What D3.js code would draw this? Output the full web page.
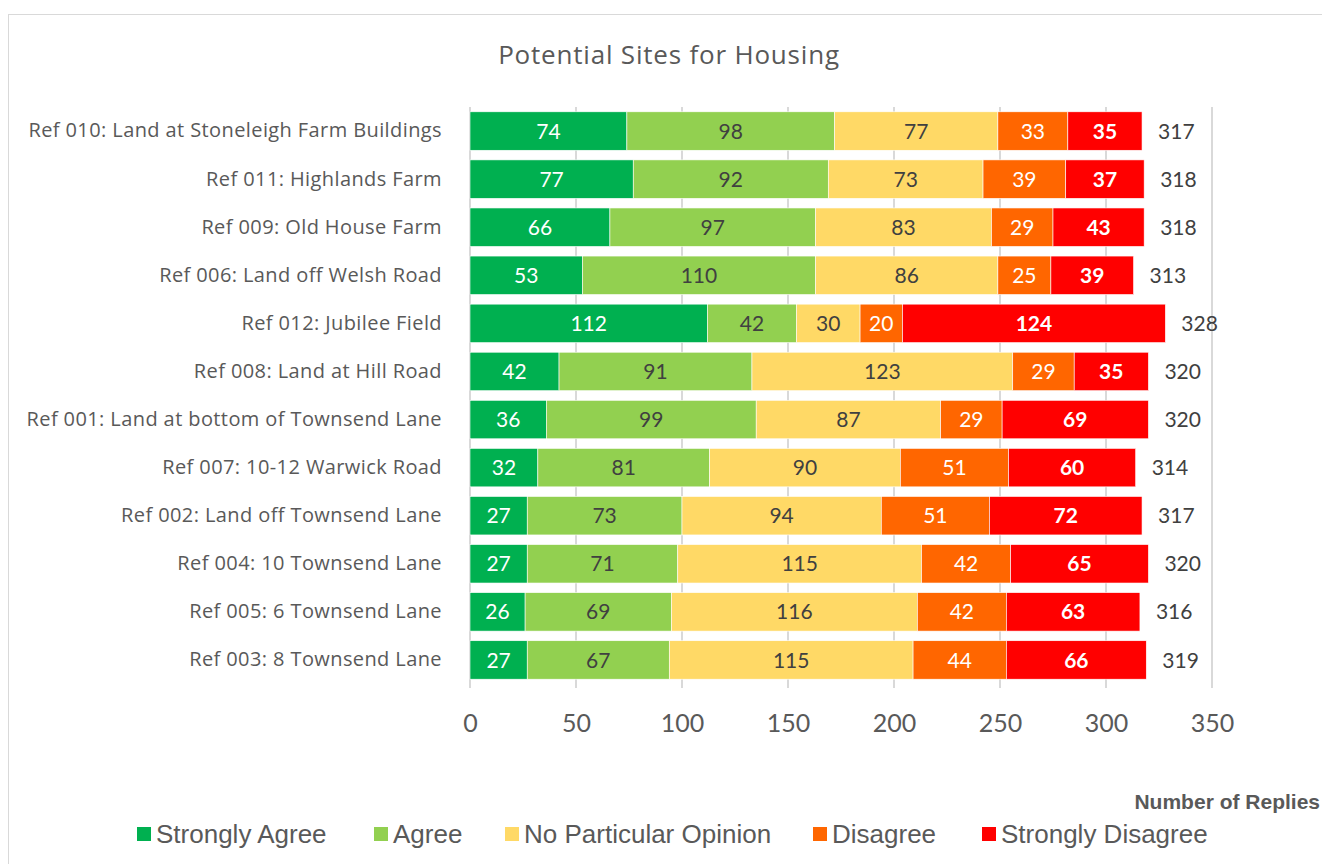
<!DOCTYPE html>
<html>
<head>
<meta charset="utf-8">
<script src="https://cdn.jsdelivr.net/npm/d3@7"></script>
<style>
  body { margin: 0; background: #fff; }
  svg { display: block; }
</style>
</head>
<body>
<div id="container"></div>
<script>
/* DATA */
const sites = [
  "Ref 010: Land at Stoneleigh Farm Buildings",
  "Ref 011: Highlands Farm",
  "Ref 009: Old House Farm",
  "Ref 006: Land off Welsh Road",
  "Ref 012: Jubilee Field",
  "Ref 008: Land at Hill Road",
  "Ref 001: Land at bottom of Townsend Lane",
  "Ref 007: 10-12 Warwick Road",
  "Ref 002: Land off Townsend Lane",
  "Ref 004: 10 Townsend Lane",
  "Ref 005: 6 Townsend Lane",
  "Ref 003: 8 Townsend Lane",
];
const responses = ["Strongly Agree", "Agree", "No Particular Opinion", "Disagree", "Strongly Disagree"];
const stronglyAgree = [74, 77, 66, 53, 112, 42, 36, 32, 27, 27, 26, 27];
const agree = [98, 92, 97, 110, 42, 91, 99, 81, 73, 71, 69, 67];
const noOpinion = [77, 73, 83, 86, 30, 123, 87, 90, 94, 115, 116, 115];
const disagree = [33, 39, 29, 25, 20, 29, 29, 51, 51, 42, 42, 44];
const stronglyDisagree = [35, 37, 43, 39, 124, 35, 69, 60, 72, 65, 63, 66];
const xTicks = [0, 50, 100, 150, 200, 250, 300, 350];

/* CONSTANTS */
const width = 1322;
const height = 864;
const margin = { top: 107, left: 470, right: 110, bottom: 180 };
const colors = ["#00B050", "#92D050", "#FFD966", "#FF6600", "#FF0000"];
const labelColors = ["#ffffff", "#404040", "#404040", "#ffffff", "#ffffff"];
const labelWeights = ["normal", "normal", "normal", "normal", "bold"];
const font = "Lato, 'Open Sans', sans-serif";
const wide = "'Open Sans', Lato, sans-serif";
const narrow = "'Liberation Sans Narrow', 'Arial Narrow', 'Liberation Sans', sans-serif";

const table = sites.map((s, i) => ({
  site: s,
  "Strongly Agree": stronglyAgree[i],
  "Agree": agree[i],
  "No Particular Opinion": noOpinion[i],
  "Disagree": disagree[i],
  "Strongly Disagree": stronglyDisagree[i],
}));
const stacked = d3.stack().keys(responses)(table);

/* SCALES */
const xScale = d3.scaleLinear().domain([0, 350]).range([margin.left, width - margin.right]);
const yScale = d3.scaleBand().domain(sites).range([margin.top, height - margin.bottom]).paddingInner(0.2).paddingOuter(0.1);
const colorScale = d3.scaleOrdinal().domain(responses).range(colors);

/* SVG */
const svg = d3.select("#container").append("svg").attr("width", width).attr("height", height);

// chart border
svg.append("rect")
  .attr("x", 8.5).attr("y", 14.5)
  .attr("width", width + 10).attr("height", height + 10)
  .attr("fill", "none").attr("stroke", "#d9d9d9");

// title
svg.append("text")
  .attr("x", 669).attr("y", 64)
  .attr("text-anchor", "middle")
  .style("font-family", wide).style("font-size", "26px").style("letter-spacing", "0.8px")
  .attr("fill", "#595959")
  .text("Potential Sites for Housing");

// gridlines
svg.append("g")
  .selectAll("line")
  .data(xTicks)
  .join("line")
  .attr("x1", (d) => xScale(d)).attr("x2", (d) => xScale(d))
  .attr("y1", margin.top).attr("y2", height - margin.bottom + 4)
  .attr("stroke", "#d9d9d9").attr("stroke-width", 2);

// x axis tick labels
const xAxis = svg.append("g")
  .attr("transform", `translate(0,${height - margin.bottom})`)
  .call(d3.axisBottom(xScale).tickValues(xTicks).tickSize(0).tickPadding(30));
xAxis.select(".domain").remove();
xAxis.selectAll("text")
  .style("font-family", font).style("font-size", "25px").attr("fill", "#595959");

// y axis labels
const yAxis = svg.append("g")
  .attr("transform", `translate(${margin.left},0)`)
  .call(d3.axisLeft(yScale).tickSize(0).tickPadding(28));
yAxis.select(".domain").remove();
yAxis.selectAll("text")
  .style("font-family", wide).style("font-size", "20px").style("letter-spacing", "0.4px")
  .attr("fill", "#595959");

// bars
const layers = svg.append("g")
  .selectAll("g")
  .data(stacked)
  .join("g")
  .attr("fill", (d) => colorScale(d.key));

layers.selectAll("rect")
  .data((d) => d)
  .join("rect")
  .attr("x", (d) => xScale(d[0]))
  .attr("y", (d) => yScale(d.data.site))
  .attr("width", (d) => xScale(d[1]) - xScale(d[0]))
  .attr("height", yScale.bandwidth())
  .attr("stroke", "#ffffff").attr("stroke-width", 0.6);

// value labels
layers.each(function (layer, li) {
  d3.select(this).selectAll("text")
    .data(layer)
    .join("text")
    .attr("x", (d) => (xScale(d[0]) + xScale(d[1])) / 2)
    .attr("y", (d) => yScale(d.data.site) + yScale.bandwidth() / 2)
    .attr("dy", "0.36em")
    .attr("text-anchor", "middle")
    .attr("fill", labelColors[li])
    .style("font-weight", labelWeights[li])
    .style("font-family", font).style("font-size", "21px")
    .text((d) => d[1] - d[0]);
});

// totals
svg.append("g")
  .selectAll("text")
  .data(table)
  .join("text")
  .attr("x", (d) => xScale(d3.sum(responses, (k) => d[k])) + 16)
  .attr("y", (d) => yScale(d.site) + yScale.bandwidth() / 2)
  .attr("dy", "0.36em")
  .style("font-family", font).style("font-size", "21px").attr("fill", "#404040")
  .text((d) => d3.sum(responses, (k) => d[k]));

// axis title
svg.append("text")
  .attr("x", 1320).attr("y", 809)
  .attr("text-anchor", "end")
  .style("font-family", narrow).style("font-size", "21px").style("font-weight", "bold")
  .attr("fill", "#595959")
  .text("Number of Replies");

// legend
const legendX = [137, 374, 505, 813, 982];
const legend = svg.append("g")
  .selectAll("g")
  .data(responses)
  .join("g")
  .attr("transform", (d, i) => `translate(${legendX[i]},834)`);
legend.append("rect")
  .attr("x", 0).attr("y", -7).attr("width", 14).attr("height", 14)
  .attr("fill", (d) => colorScale(d));
legend.append("text")
  .attr("x", 19).attr("dy", "0.36em")
  .style("font-family", narrow).style("font-size", "26px").attr("fill", "#595959")
  .text((d) => d);
</script>
</body>
</html>
